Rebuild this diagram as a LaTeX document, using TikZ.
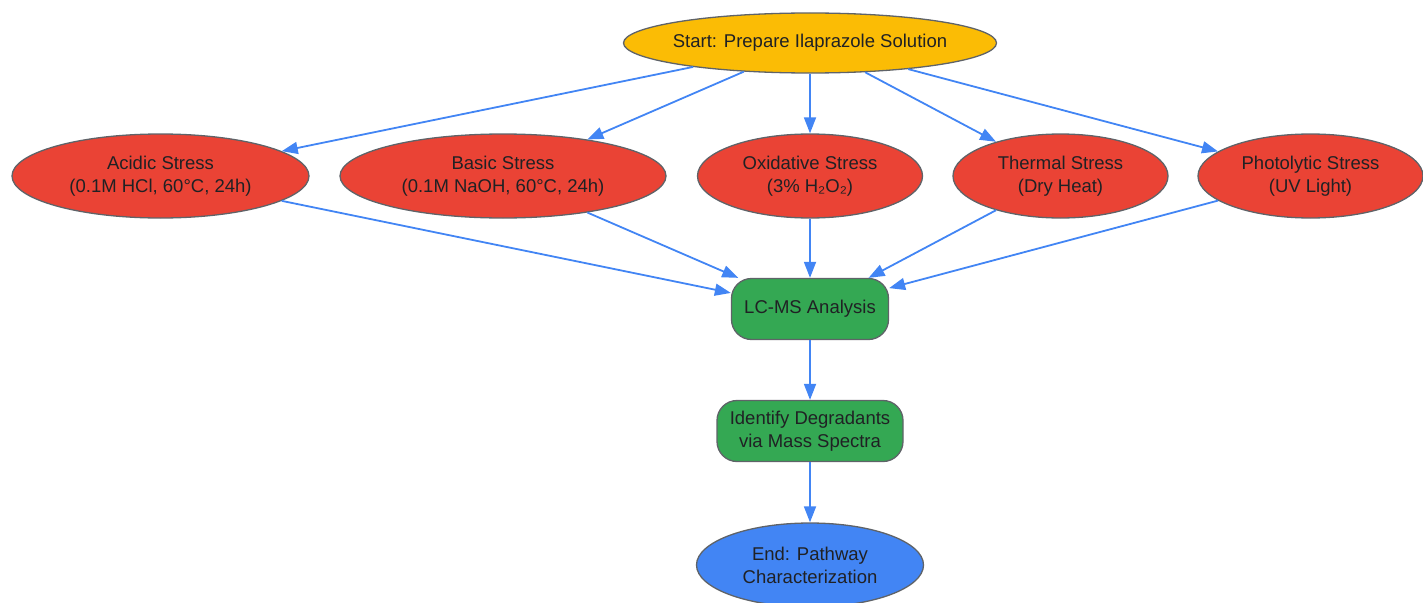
\documentclass[tikz,border=0pt]{standalone}
\usepackage{fontspec}
\setmainfont{Liberation Sans}
\usetikzlibrary{shapes.geometric,arrows.meta}
\definecolor{C0}{RGB}{66,133,244}   % blue
\definecolor{C1}{RGB}{251,188,5}    % yellow
\definecolor{C2}{RGB}{234,67,53}    % red
\definecolor{C3}{RGB}{52,168,83}    % green
\definecolor{Cline}{RGB}{95,99,104}
\definecolor{Ctext}{RGB}{32,33,36}

\tikzset{
  oval/.style={ellipse, draw=Cline, line width=1.3pt, inner sep=0pt,
    minimum height=84pt, align=center, text=Ctext,
    font=\fontsize{18.5pt}{23pt}\selectfont},
  roundbox/.style={rectangle, rounded corners=20pt, draw=Cline, line width=1.3pt,
    fill=C3, minimum height=61pt, align=center, text=Ctext,
    font=\fontsize{18.5pt}{23pt}\selectfont},
  flow/.style={-{Triangle[length=16pt,width=12pt]}, line width=1.8pt, draw=C0},
}

\begin{document}
\begin{tikzpicture}[x=1pt,y=-1pt]
  \useasboundingbox (0,0) rectangle (1423,602);

  % Start node.
  \node[oval, fill=C1, minimum width=373pt, minimum height=60pt, inner xsep=-6pt] (start) at (810,43) {Start: Prepare Ilaprazole Solution};

  % Stress conditions.
  \node[oval, fill=C2, minimum width=297pt] (acidic) at (160.5,176) {Acidic Stress\\(0.1M HCl, 60°C, 24h)};
  \node[oval, fill=C2, minimum width=326pt] (basic) at (503,176) {Basic Stress\\(0.1M NaOH, 60°C, 24h)};
  \node[oval, fill=C2, minimum width=225pt] (oxid) at (810,176) {Oxidative Stress\\(3\% H₂O₂)};
  \node[oval, fill=C2, minimum width=215pt] (thermal) at (1060.5,176) {Thermal Stress\\(Dry Heat)};
  \node[oval, fill=C2, minimum width=225pt] (photo) at (1310.5,176) {Photolytic Stress\\(UV Light)};

  % Analysis steps.
  \node[roundbox, minimum width=157pt] (lcms) at (810,309) {LC-MS Analysis};
  \node[roundbox, minimum width=186pt] (identify) at (810,431) {Identify Degradants\\via Mass Spectra};

  % End node.
  \node[oval, fill=C0, minimum width=227pt] (finish) at (810,565) {End: Pathway\\Characterization};

  % Start to stresses.
  \draw[flow] (start) -- (acidic);
  \draw[flow] (start) -- (basic);
  \draw[flow] (start) -- (oxid);
  \draw[flow] (start) -- (thermal);
  \draw[flow] (start) -- (photo);

  % Stresses to analysis.
  \draw[flow] (acidic) -- (lcms);
  \draw[flow] (basic) -- (lcms);
  \draw[flow] (oxid) -- (lcms);
  \draw[flow] (thermal) -- (lcms);
  \draw[flow] (photo) -- (lcms);

  \draw[flow] (lcms) -- (identify);
  \draw[flow] (identify) -- (finish);

\end{tikzpicture}
\end{document}
